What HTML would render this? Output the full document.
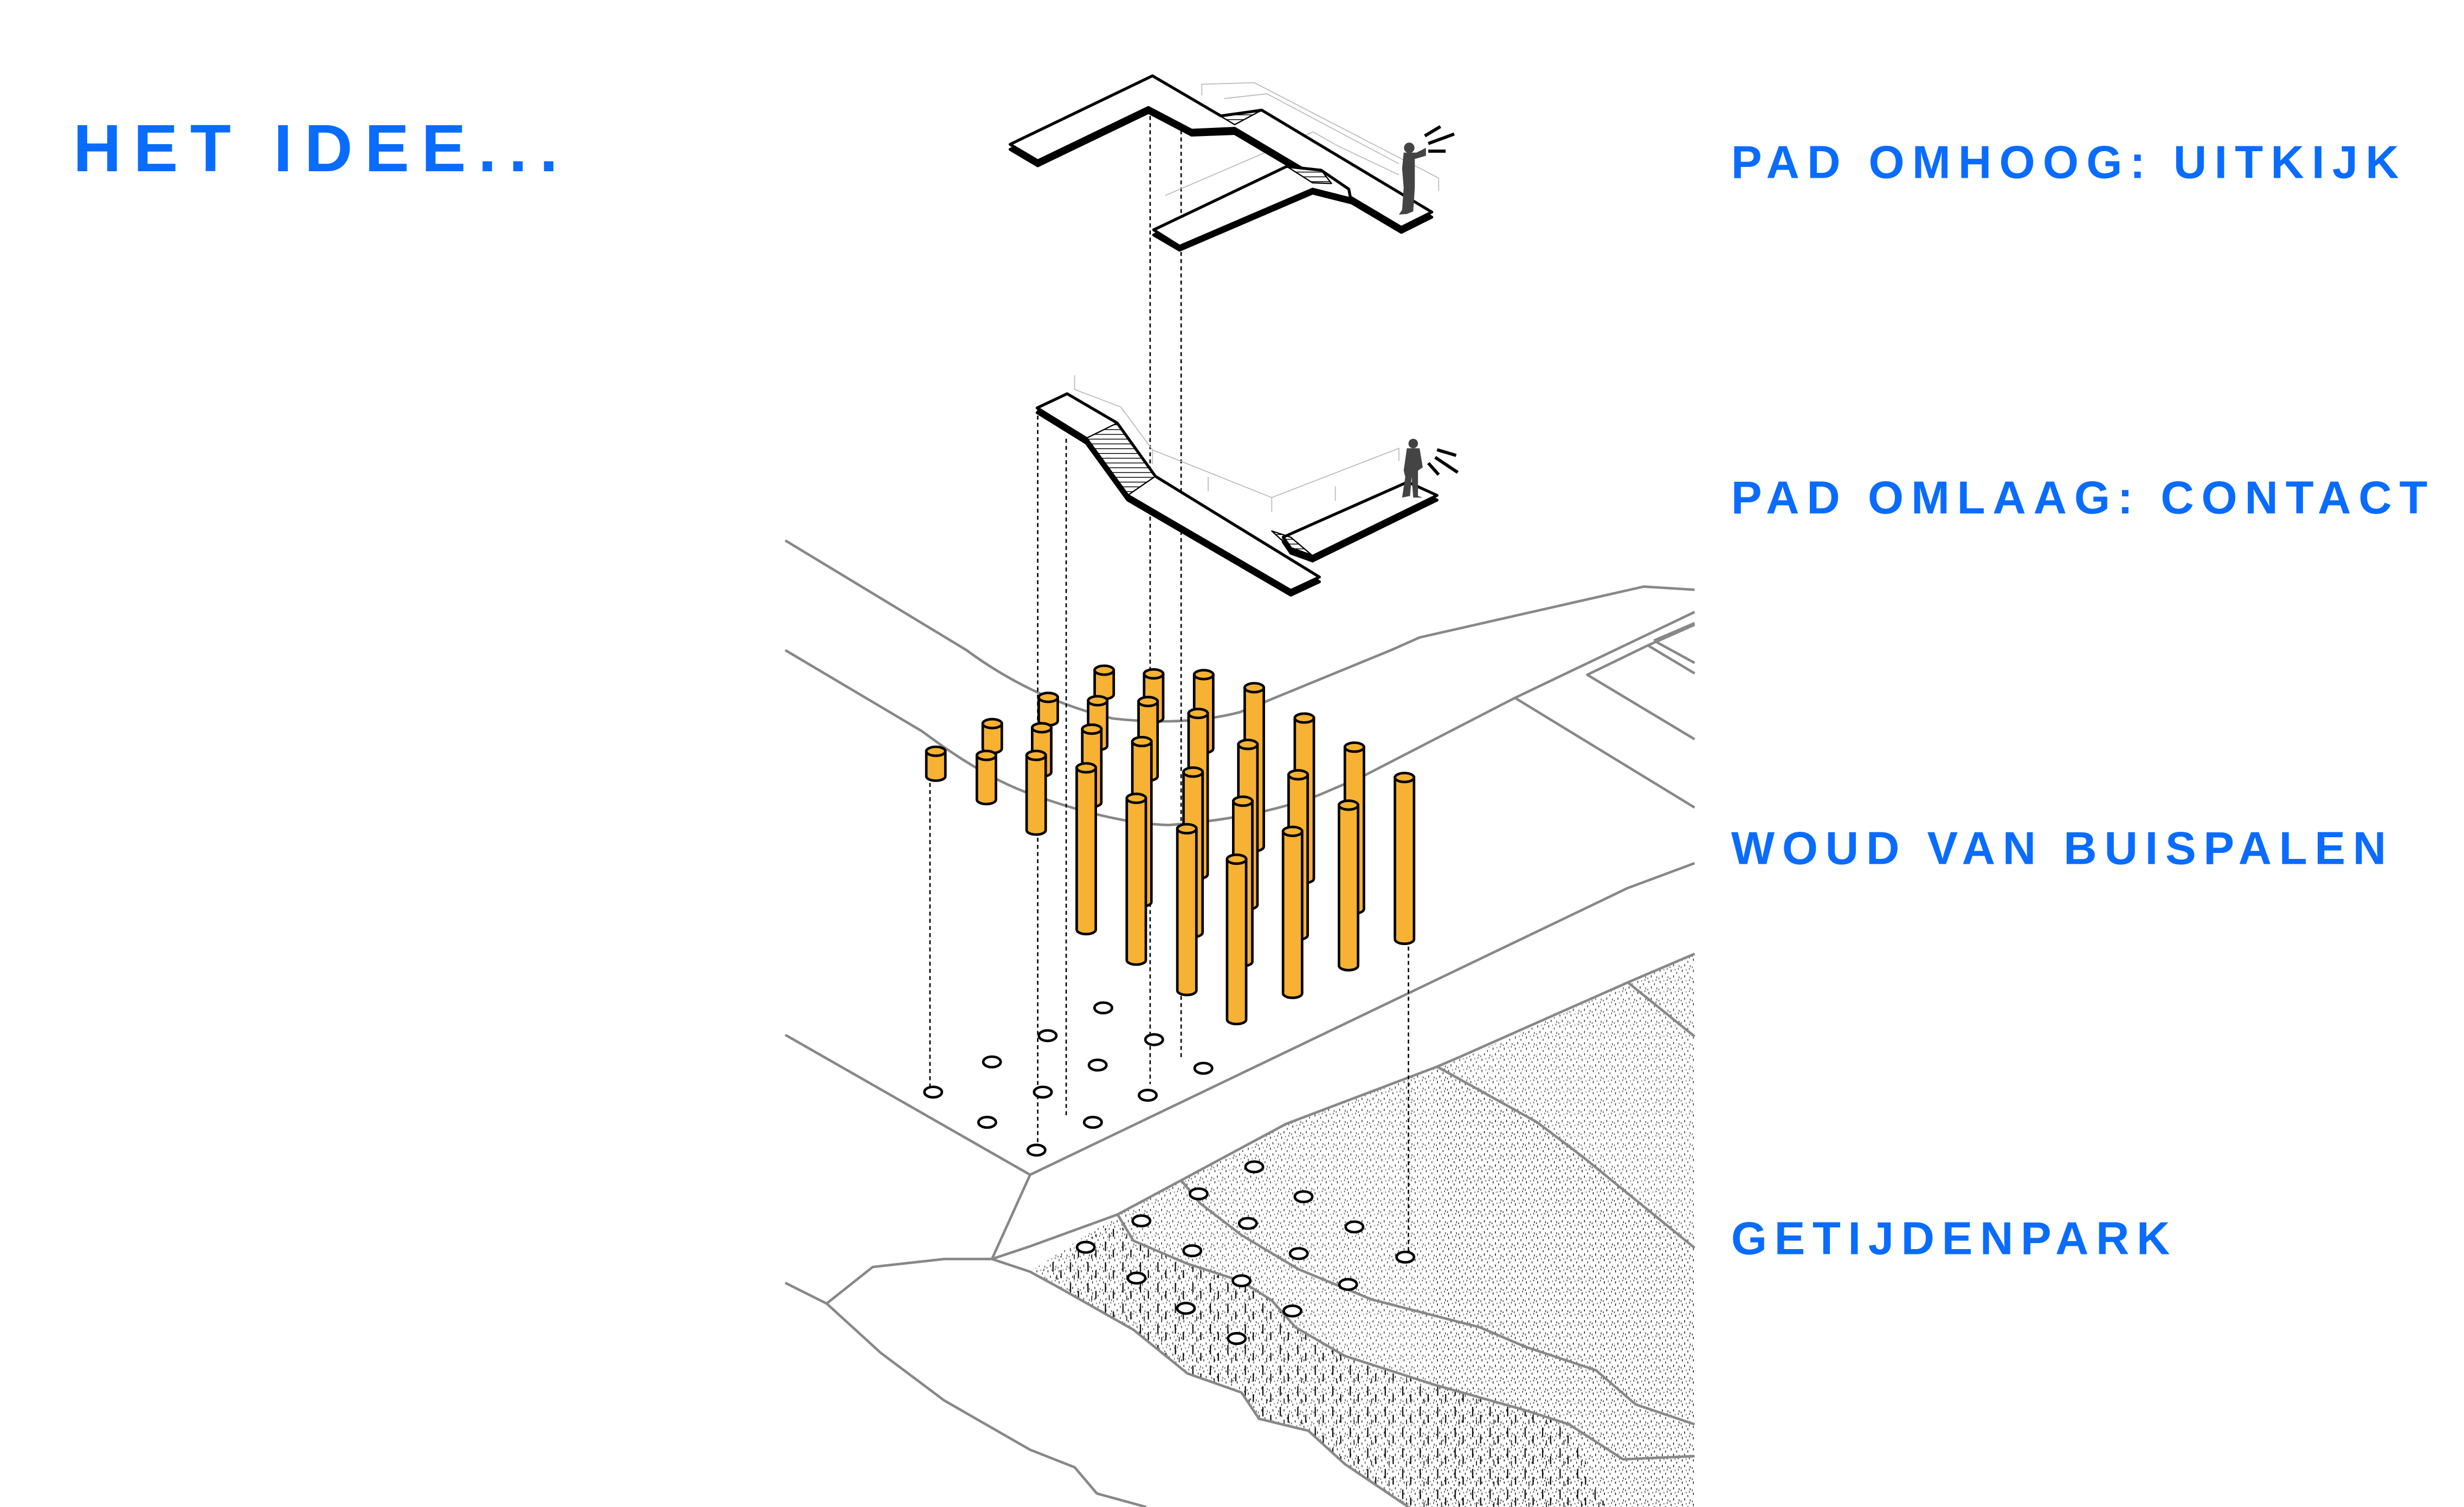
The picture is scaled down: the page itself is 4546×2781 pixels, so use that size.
<!DOCTYPE html>
<html><head><meta charset="utf-8"><style>
html,body{margin:0;padding:0;background:#fff;}
svg{display:block;}
text{font-family:"Liberation Sans",Arial,sans-serif;font-weight:bold;fill:#0a6cff;}
</style></head><body>
<svg width="4546" height="2781" viewBox="0 0 1550 948" preserveAspectRatio="none" xmlns="http://www.w3.org/2000/svg">
<defs>
<pattern id="stip" width="7" height="7" patternUnits="userSpaceOnUse">
<rect x="1" y="1" width="0.5" height="1.4" fill="#111"/>
<rect x="4.5" y="2.5" width="0.5" height="1.2" fill="#222"/>
<rect x="2.5" y="4.5" width="0.5" height="1.4" fill="#111"/>
<rect x="6" y="5.2" width="0.5" height="1.2" fill="#333"/>
<rect x="0.3" y="6" width="0.5" height="1" fill="#333"/>
<rect x="5.5" y="0" width="0.5" height="1" fill="#333"/>
<rect x="3.5" y="0.5" width="0.4" height="0.9" fill="#444"/>
</pattern>
<pattern id="grass" width="11" height="13" patternUnits="userSpaceOnUse">
<rect x="2" y="1" width="0.8" height="6" fill="#111"/>
<rect x="7" y="6" width="0.8" height="5" fill="#111"/>
<rect x="4.5" y="9" width="0.6" height="3" fill="#222"/>
</pattern>
<pattern id="hatch" width="3" height="3" patternUnits="userSpaceOnUse">
<rect x="0" y="0" width="3" height="0.5" fill="#000"/>
</pattern>
</defs>

<text x="46" y="107.7" font-size="42" textLength="305" lengthAdjust="spacing">HET IDEE...</text>
<text x="1089" y="112" font-size="29" textLength="420" lengthAdjust="spacing">PAD OMHOOG: UITKIJK</text>
<text x="1089" y="323" font-size="29" textLength="438" lengthAdjust="spacing">PAD OMLAAG: CONTACT</text>
<text x="1089" y="543.5" font-size="29" textLength="412" lengthAdjust="spacing">WOUD VAN BUISPALEN</text>
<text x="1089" y="789" font-size="29" textLength="276" lengthAdjust="spacing">GETIJDENPARK</text>

<polygon fill="url(#stip)" opacity="0.9" points="703,764 743,742.5 809,707 904,671 922,665 1066,600 1066,948 886,948 846,921 823,900 792,892.5 781,876 747,864 713,836.5 668,811 648,800"/>
<polygon fill="url(#stip)" opacity="0.7" points="904,671 967,706 996,728 1066,785 1066,948 900,948 904,700"/>
<polygon fill="url(#grass)" points="655,798 703,768 713,781 747,795 781,806 800,818 815,835 846,853 902,871 959,887 987,896 1010,948 886,948 846,921 823,900 792,892.5 781,876 747,864 713,836.5 668,811"/>

<g fill="none" stroke="#888" stroke-width="1.6" stroke-linejoin="round">
<path d="M494,340 L608,409 Q650,440 700,452 Q745,457 780,448 L797,441 L875,409 L893,401 L1034,369 L1066,371"/>
<path d="M494,409 L580,460 Q620,490 650,500 Q700,518 735,519 Q790,515 830,500 L858,488 L953,439 L1066,385"/>
<path d="M953,439 L1066,508"/>
<path d="M1066,465 L998.5,424.5 L1036.6,406 L1066,423.6 M1036.6,406 L1066,393 M1040.4,403 L1066,392 M1040.4,403 L1066,417"/>
<path d="M494,651 L648,739 L1024,558.6 L1066,543"/>
<path d="M648,739 L624,792 L648,784 L703,764 L743,742.5 L809,707 L904,671 L918,665 L1024,618 L1066,600"/>
<path d="M1024,618 L1066,652"/>
<path d="M904,671 L967,706 L996,728 L1066,785"/>
<path d="M743,742.5 L755,757 L781,777 L817,798.5 L863,817.5 L931,835 L959,847 L1004,862 L1029,883.5 L1066,896"/>
<path d="M703,764 L713,780.5 L747,795 L781,806 L800,818 L815,835 L846,853 L902,871 L959,887 L987,896 L1021,918 L1066,916"/>
<path d="M624,792 L648,800 L668,811 L713,836.5 L747,864 L781,876 L792,892.5 L823,900 L846,921 L886,948"/>
<path d="M494,807 L520,820 L549,797 L594,792 L624,792"/>
<path d="M520,820 L554,851 L594,881 L648,912 L676,923 L690,939.5 L721,948"/>
</g>

<g stroke="#000" stroke-width="0.9" stroke-dasharray="2.5,2" fill="none">
<path d="M723.5,64 V682"/>
<path d="M743,82 V666"/>
<path d="M652.8,257 V719"/>
<path d="M670.7,276 V702"/>
<path d="M585,488 V684"/>
<path d="M886,591 V787"/>
</g>

<g fill="#fff" stroke="#000" stroke-width="1.6">
<ellipse cx="694" cy="634" rx="5.5" ry="3.3"/><ellipse cx="659" cy="651.5" rx="5.5" ry="3.3"/>
<ellipse cx="726" cy="654" rx="5.5" ry="3.3"/><ellipse cx="624" cy="668" rx="5.5" ry="3.3"/>
<ellipse cx="690.5" cy="670" rx="5.5" ry="3.3"/><ellipse cx="757" cy="672" rx="5.5" ry="3.3"/>
<ellipse cx="656" cy="687" rx="5.5" ry="3.3"/><ellipse cx="722" cy="689" rx="5.5" ry="3.3"/>
<ellipse cx="687.5" cy="706" rx="5.5" ry="3.3"/><ellipse cx="652" cy="723.5" rx="5.5" ry="3.3"/>
<ellipse cx="587" cy="687" rx="5.5" ry="3.3"/><ellipse cx="621" cy="706" rx="5.5" ry="3.3"/>
<ellipse cx="789" cy="734" rx="5.5" ry="3.3"/><ellipse cx="754" cy="751" rx="5.5" ry="3.3"/>
<ellipse cx="820" cy="752.8" rx="5.5" ry="3.3"/><ellipse cx="718" cy="768" rx="5.5" ry="3.3"/>
<ellipse cx="785" cy="769.6" rx="5.5" ry="3.3"/><ellipse cx="852" cy="771.8" rx="5.5" ry="3.3"/>
<ellipse cx="683" cy="784.6" rx="5.5" ry="3.3"/><ellipse cx="750" cy="786.8" rx="5.5" ry="3.3"/>
<ellipse cx="817" cy="788.6" rx="5.5" ry="3.3"/><ellipse cx="884" cy="790.8" rx="5.5" ry="3.3"/>
<ellipse cx="715" cy="804" rx="5.5" ry="3.3"/><ellipse cx="781" cy="805.7" rx="5.5" ry="3.3"/>
<ellipse cx="848" cy="808" rx="5.5" ry="3.3"/><ellipse cx="746" cy="823" rx="5.5" ry="3.3"/>
<ellipse cx="813" cy="824.7" rx="5.5" ry="3.3"/><ellipse cx="778" cy="842" rx="5.5" ry="3.3"/>
</g>

<g fill="#f7b133" stroke="#000" stroke-width="1.6">
<path d="M688.6,421.6 V436.9 A6,2.8 0 0 0 700.6,436.9 V421.6 Z"/><ellipse cx="694.6" cy="421.6" rx="6" ry="2.8"/>
<path d="M719.7,423.9 V451.7 A6,2.8 0 0 0 731.7,451.7 V423.9 Z"/><ellipse cx="725.7" cy="423.9" rx="6" ry="2.8"/>
<path d="M653.4,438.7 V453.5 A6,2.8 0 0 0 665.4,453.5 V438.7 Z"/><ellipse cx="659.4" cy="438.7" rx="6" ry="2.8"/>
<path d="M684.5,440.8 V469.1 A6,2.8 0 0 0 696.5,469.1 V440.8 Z"/><ellipse cx="690.5" cy="440.8" rx="6" ry="2.8"/>
<path d="M751.2,424.4 V470.9 A6,2.8 0 0 0 763.2,470.9 V424.4 Z"/><ellipse cx="757.2" cy="424.4" rx="6" ry="2.8"/>
<path d="M618.2,455.2 V470.9 A6,2.8 0 0 0 630.2,470.9 V455.2 Z"/><ellipse cx="624.2" cy="455.2" rx="6" ry="2.8"/>
<path d="M649.3,457.8 V485.7 A6,2.8 0 0 0 661.3,485.7 V457.8 Z"/><ellipse cx="655.3" cy="457.8" rx="6" ry="2.8"/>
<path d="M582.7,472.6 V488.3 A6,2.8 0 0 0 594.7,488.3 V472.6 Z"/><ellipse cx="588.7" cy="472.6" rx="6" ry="2.8"/>
<path d="M716.2,441.3 V488.3 A6,2.8 0 0 0 728.2,488.3 V441.3 Z"/><ellipse cx="722.2" cy="441.3" rx="6" ry="2.8"/>
<path d="M614.5,475.2 V503 A6,2.8 0 0 0 626.5,503 V475.2 Z"/><ellipse cx="620.5" cy="475.2" rx="6" ry="2.8"/>
<path d="M680.8,458.7 V504.8 A6,2.8 0 0 0 692.8,504.8 V458.7 Z"/><ellipse cx="686.8" cy="458.7" rx="6" ry="2.8"/>
<path d="M645.8,475.2 V522.2 A6,2.8 0 0 0 657.8,522.2 V475.2 Z"/><ellipse cx="651.8" cy="475.2" rx="6" ry="2.8"/>
<path d="M783,432.6 V532.6 A6,2.8 0 0 0 795,532.6 V432.6 Z"/><ellipse cx="789" cy="432.6" rx="6" ry="2.8"/>
<path d="M747.7,448.8 V550 A6,2.8 0 0 0 759.7,550 V448.8 Z"/><ellipse cx="753.7" cy="448.8" rx="6" ry="2.8"/>
<path d="M814.5,451.7 V552.7 A6,2.8 0 0 0 826.5,552.7 V451.7 Z"/><ellipse cx="820.5" cy="451.7" rx="6" ry="2.8"/>
<path d="M712.3,466.5 V567.4 A6,2.8 0 0 0 724.3,567.4 V466.5 Z"/><ellipse cx="718.3" cy="466.5" rx="6" ry="2.8"/>
<path d="M779,468.3 V569.2 A6,2.8 0 0 0 791,569.2 V468.3 Z"/><ellipse cx="785" cy="468.3" rx="6" ry="2.8"/>
<path d="M846,470 V571.8 A6,2.8 0 0 0 858,571.8 V470 Z"/><ellipse cx="852" cy="470" rx="6" ry="2.8"/>
<path d="M677.3,483 V584.8 A6,2.8 0 0 0 689.3,584.8 V483 Z"/><ellipse cx="683.3" cy="483" rx="6" ry="2.8"/>
<path d="M744.5,485.7 V586.6 A6,2.8 0 0 0 756.5,586.6 V485.7 Z"/><ellipse cx="750.5" cy="485.7" rx="6" ry="2.8"/>
<path d="M810.6,487.4 V588.3 A6,2.8 0 0 0 822.6,588.3 V487.4 Z"/><ellipse cx="816.6" cy="487.4" rx="6" ry="2.8"/>
<path d="M877.5,489.1 V590.9 A6,2.8 0 0 0 889.5,590.9 V489.1 Z"/><ellipse cx="883.5" cy="489.1" rx="6" ry="2.8"/>
<path d="M708.8,502.2 V604 A6,2.8 0 0 0 720.8,604 V502.2 Z"/><ellipse cx="714.8" cy="502.2" rx="6" ry="2.8"/>
<path d="M775.8,504 V604.9 A6,2.8 0 0 0 787.8,604.9 V504 Z"/><ellipse cx="781.8" cy="504" rx="6" ry="2.8"/>
<path d="M842.3,506.5 V607.5 A6,2.8 0 0 0 854.3,607.5 V506.5 Z"/><ellipse cx="848.3" cy="506.5" rx="6" ry="2.8"/>
<path d="M740.6,521.3 V623.1 A6,2.8 0 0 0 752.6,623.1 V521.3 Z"/><ellipse cx="746.6" cy="521.3" rx="6" ry="2.8"/>
<path d="M807.1,523 V624.9 A6,2.8 0 0 0 819.1,624.9 V523 Z"/><ellipse cx="813.1" cy="523" rx="6" ry="2.8"/>
<path d="M771.9,540.5 V641.4 A6,2.8 0 0 0 783.9,641.4 V540.5 Z"/><ellipse cx="777.9" cy="540.5" rx="6" ry="2.8"/>
</g>

<g fill="none" stroke="#bbb" stroke-width="0.6">
<path d="M756,60 L756,53 L789,52 L905,112 L905,120"/>
<path d="M770,62 L797,59 L880,103"/>
<path d="M733,123 L826,83 L842,92 L880,110"/>
<path d="M676,236 L676,245 L705,256 L725,283 L800,313 L880,282 L880,290"/>
<path d="M725,283 L725,292 M760,300 L760,309 M800,313 L800,322 M840,306 L840,315"/>
</g>

<g stroke="#000" stroke-width="1.8" stroke-linejoin="round">
<polygon fill="#000" points="635.4,94 725,51 768,76 793.7,72.5 900.7,136.6 881.5,146.2 776.7,84 749.6,85 722.4,70.8 652.8,104.3"/>
<polygon fill="#fff" points="635.4,90.8 725,47.7 768,72.9 793.7,69.3 900.7,133.4 881.5,143 776.7,80.7 749.6,81.9 722.4,67.6 652.8,101.1"/>
<polygon fill="#000" points="725.7,147.8 809.4,107.2 831.1,109.6 848.5,121.5 849.6,127.5 825.7,121.5 742,157.4"/>
<polygon fill="#fff" points="725.7,144.6 809.4,104.7 831.1,107.1 848.5,119 849.6,125 825.7,119 742,154.9"/>
<polygon fill="url(#hatch)" stroke-width="0.8" points="809.4,104.7 831.1,107.1 837.6,115.4 825.7,115"/>
<polygon fill="url(#hatch)" stroke-width="0.8" points="767.6,73 793.7,69.3 776.7,78.4"/>
</g>

<g stroke="#000" stroke-width="1.8" stroke-linejoin="round">
<polygon fill="#000" points="652.4,259.6 671.3,250.7 702.8,269.1 726.8,302.6 830,366 812,374.4 709.4,314.6 683.3,278.7"/>
<polygon fill="#fff" points="652.4,256.6 671.3,247.7 702.8,266.1 726.8,299.6 830,363 812,371.4 709.4,311.6 683.3,275.7"/>
<polygon fill="#000" points="807.2,340.9 885.5,306.2 904,314.6 825.7,352.9 812,348"/>
<polygon fill="#fff" points="807.2,337.9 885.5,303.2 904,311.6 825.7,349.9 812,345"/>
<polygon fill="url(#hatch)" stroke-width="0.8" points="683.3,275.7 702.8,266.1 726.8,299.6 709.4,311.6"/>
<polygon fill="url(#hatch)" stroke-width="0.8" points="800,334 812,338 825,349 812,345"/>
</g>

<g fill="#444">
<circle cx="886.5" cy="93" r="3.3"/>
<path d="M883,96 L891,96 L897,93 L897,98 L890,100 L890,118 L889,133 L885,134.6 L880,135 L882,132 L883,118 L882,106 Z"/>
<circle cx="889" cy="279" r="3"/>
<path d="M885,282 L893,282 L895,294 L892,296 L892,312 L895,313 L889,313 L888,300 L887,312 L882,313 L884,300 L883,296 Z"/>
</g>
<g stroke="#000" stroke-width="2" fill="none">
<path d="M896.3,85.5 L906.1,79.6 M898.5,90.3 L914.8,84.3 M898.5,95.1 L909.4,95.1"/>
<path d="M904,282.9 L916,286.5 M902.8,287.7 L917,297.2 M898.5,291.3 L905,298.6"/>
</g>
</svg>
</body></html>
